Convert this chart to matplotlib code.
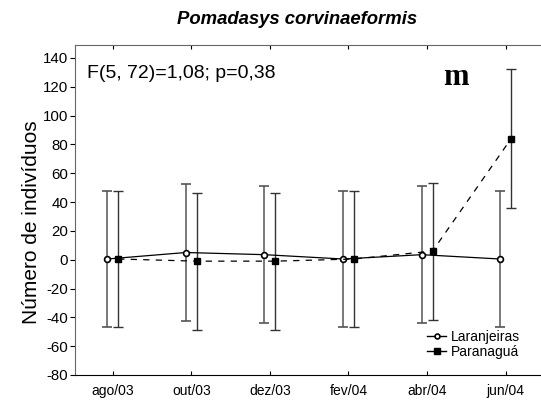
import matplotlib
matplotlib.use("Agg")
import matplotlib.pyplot as plt
from matplotlib.lines import Line2D
import numpy as np

months = ["ago/03", "out/03", "dez/03", "fev/04", "abr/04", "jun/04"]
lar_mean = [0.5, 5.0, 3.5, 0.5, 3.5, 0.5]
lar_err = [47.5, 47.5, 47.5, 47.5, 47.5, 47.5]
par_mean = [0.5, -1.0, -1.0, 0.5, 6.0, 84.0]
par_err = [47.5, 47.5, 47.5, 47.5, 47.5, 48.0]
yticks = [-80, -60, -40, -20, 0, 20, 40, 60, 80, 100, 120, 140]

plt.rcParams['font.family'] = ['Liberation Sans', 'DejaVu Sans']

fig = plt.figure(figsize=(5.41, 4.05), dpi=100)
ax = fig.add_axes([75/541, 1-375/405, 466/541, (375-45)/405])

x = np.arange(len(months))
off = 0.07
ax.errorbar(x - off, lar_mean, yerr=lar_err, color='black', lw=0.9, ls='-',
            marker='o', ms=4.2, mfc='white', mec='black', mew=1.2,
            ecolor='#555555', elinewidth=1.1, capsize=3.5, capthick=1.0,
            zorder=3)
ax.errorbar(x + off, par_mean, yerr=par_err, color='black', lw=0.9, ls=(0, (5, 5)),
            marker='s', ms=4.5, mfc='black', mec='black',
            ecolor='#333333', elinewidth=1.0, capsize=3.5, capthick=1.0,
            zorder=3)

ax.set_xlim(-0.48, 5.45)
ax.set_ylim(-80, 149)
ax.set_xticks(x)
ax.set_xticklabels(months, fontsize=10)
ax.set_yticks(yticks)
ax.set_yticklabels([str(v) for v in yticks], fontsize=10.8)
ax.tick_params(axis='x', direction='in', top=True, length=3, pad=6.5)
ax.tick_params(axis='y', direction='out', length=3.5, pad=1.5)
ax.spines['right'].set_visible(False)
ax.spines['left'].set_color('#666666')
ax.spines['top'].set_color('#666666')
ax.set_ylabel('Número de indivíduos', fontsize=15)
ax.yaxis.set_label_coords(-0.072, 0.462)

ax.text(0.026, 0.915, 'F(5, 72)=1,08; p=0,38', transform=ax.transAxes, fontsize=14,
        va='center', ha='left')
ax.text(0.79, 0.903, 'm', transform=ax.transAxes, fontsize=22, fontweight='bold',
        family='Liberation Serif', va='center', ha='left')

fig.text(297/541, 1-20/405, 'Pomadasys corvinaeformis', fontsize=13.3,
         fontweight='bold', style='italic', ha='center', va='center')

handles = [
    Line2D([], [], color='black', lw=1.0, ls='-', marker='o', ms=3.5,
           mfc='white', mec='black', mew=1.2),
    Line2D([], [], color='black', lw=1.0, ls='-', marker='s', ms=4,
           mfc='black', mec='black'),
]
ax.legend(handles, ['Laranjeiras', 'Paranaguá'], loc='center left',
          bbox_to_anchor=(0.755, 0.092), fontsize=10, frameon=False,
          handlelength=1.4, handletextpad=0.35, labelspacing=0.08,
          borderpad=0, borderaxespad=0)

fig.savefig('out.png', dpi=100)
